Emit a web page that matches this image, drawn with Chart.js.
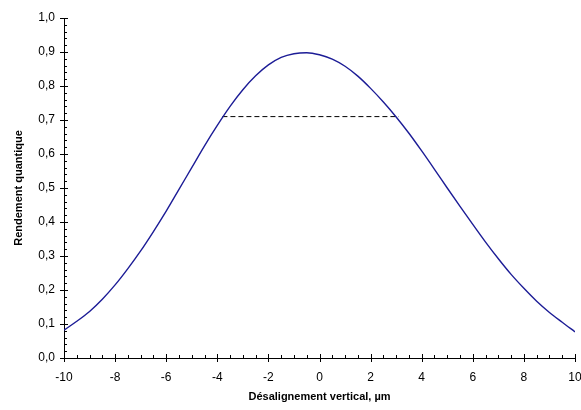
<!DOCTYPE html>
<html>
<head>
<meta charset="utf-8">
<script src="https://cdn.jsdelivr.net/npm/chart.js@4/dist/chart.umd.min.js"></script>
<style>
  html, body { margin: 0; padding: 0; background: #fff; }
  #wrap { width: 581px; height: 410px; }
</style>
</head>
<body>
<div id="wrap"><canvas id="canva" width="581" height="410"></canvas></div>
<script>
// décalage vertical (µm) et rendement
const desalignement = [-10, -9.5, -9, -8.5, -8, -7.5, -7, -6.5, -6, -5.5, -5, -4.5, -4, -3.5, -3, -2.5, -2, -1.5, -1, -0.5,
    0, 0.5, 1, 1.5, 2, 2.5, 3, 3.5, 4, 4.5, 5, 5.5, 6, 6.5, 7, 7.5, 8, 8.5, 9, 9.5, 10];
const rendement = [0.082, 0.108, 0.137, 0.173, 0.215, 0.263, 0.315, 0.372, 0.432, 0.496, 0.560, 0.624, 0.684, 0.740, 0.789, 0.830, 0.862, 0.884, 0.895, 0.898,
    0.892, 0.879, 0.858, 0.829, 0.793, 0.753, 0.709, 0.661, 0.609, 0.555, 0.500, 0.446, 0.393, 0.341, 0.292, 0.246, 0.205, 0.167, 0.134, 0.105, 0.077];
// ligne pointillée (largeur à mi-hauteur)
const tiretX = [-3.8, 3.1];
const tiretY = [0.71, 0.71];

const police = "'Liberation Sans', Arial, sans-serif";

// petites graduations des axes
const graduations = {
    id: "graduations",
    afterDraw(chart) {
        const c = chart.ctx;
        const sx = chart.scales.x;
        const sy = chart.scales.y;
        const x0 = sx.left, y0 = sy.bottom;
        c.save();
        c.strokeStyle = "#000";
        c.lineWidth = 1;
        c.beginPath();
        for (let i = 0; i <= 50; i++) {
            const py = Math.round(sy.getPixelForValue(i * 0.02)) + 0.5;
            if (i % 5 == 0) {
                c.moveTo(x0 - 4, py); c.lineTo(x0 + 4, py);
            } else {
                c.moveTo(x0, py); c.lineTo(x0 + 3, py);
            }
        }
        for (let i = 0; i <= 40; i++) {
            const px = Math.round(sx.getPixelForValue(-10 + i * 0.5)) + 0.5;
            if (i % 4 == 0) {
                c.moveTo(px, y0 - 4); c.lineTo(px, y0 + 4);
            } else {
                c.moveTo(px, y0); c.lineTo(px, y0 - 3);
            }
        }
        c.stroke();
        c.restore();
    }
};

const ctx = document.getElementById("canva").getContext("2d");
const config = {
    type: "scatter",
    data: {
        datasets: [{
            data: desalignement.map((x, i) => ({ x: x, y: rendement[i] })),
            showLine: true,
            borderColor: "rgb(28, 28, 150)",
            borderWidth: 1.4,
            pointRadius: 0,
            cubicInterpolationMode: "monotone"
        }, {
            data: tiretX.map((x, i) => ({ x: x, y: tiretY[i] })),
            showLine: true,
            borderColor: "#000",
            borderWidth: 1,
            borderDash: [5, 3],
            pointRadius: 0
        }]
    },
    options: {
        responsive: false,
        animation: false,
        layout: { padding: { top: 18, right: 6, left: 0, bottom: 0 } },
        plugins: { legend: { display: false }, tooltip: { enabled: false } },
        scales: {
            x: {
                type: "linear",
                min: -10,
                max: 10,
                afterFit: s => { s.height = 52; s.paddingRight = 0; s.paddingLeft = 0; },
                grid: { display: true, drawOnChartArea: false, drawTicks: false },
                border: { display: true, color: "#000", width: 1 },
                ticks: {
                    stepSize: 2,
                    padding: 12,
                    color: "#000",
                    font: { family: police, size: 12 }
                },
                title: {
                    display: true,
                    text: "Désalignement vertical, µm",
                    color: "#000",
                    font: { family: police, size: 11, weight: "bold" },
                    padding: { top: 2, bottom: 6 }
                }
            },
            y: {
                min: 0,
                max: 1,
                afterFit: s => { s.width = 64; s.paddingTop = 0; s.paddingBottom = 0; },
                grid: { display: true, drawOnChartArea: false, drawTicks: false },
                border: { display: true, color: "#000", width: 1 },
                ticks: {
                    stepSize: 0.1,
                    padding: 9,
                    color: "#000",
                    font: { family: police, size: 12 },
                    callback: v => v.toFixed(1).replace(".", ",")
                },
                title: {
                    display: true,
                    text: "Rendement quantique",
                    color: "#000",
                    font: { family: police, size: 11, weight: "bold" },
                    padding: { top: 12, bottom: 0 }
                }
            }
        }
    },
    plugins: [graduations]
};
const chart = new Chart(ctx, config);
</script>
</body>
</html>
